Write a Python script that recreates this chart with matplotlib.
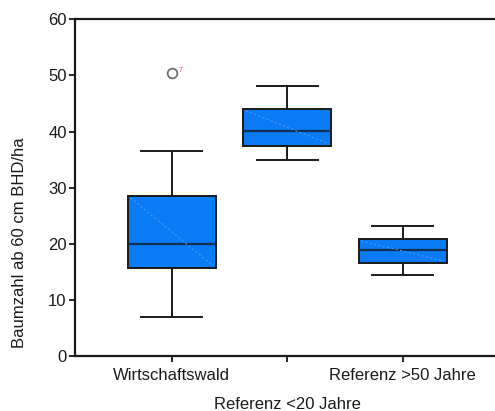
import matplotlib.pyplot as plt

plt.rcParams['font.family'] = ['Liberation Sans', 'DejaVu Sans']

# box statistics
q1 = [15.7, 37.5, 16.6]
med = [20.0, 40.1, 18.8]
q3 = [28.5, 44.0, 20.8]
whislo = [6.9, 35.0, 14.4]
whishi = [36.5, 48.1, 23.2]
fliers = [[50.5], [], []]
box_pos = [1, 2, 3]
tick_labels = ['Wirtschaftswald', 'Referenz <20 Jahre', 'Referenz >50 Jahre']

stats = []
for i in range(3):
    stats.append(dict(q1=q1[i], med=med[i], q3=q3[i], whislo=whislo[i],
                      whishi=whishi[i], fliers=fliers[i]))

fig = plt.figure(figsize=(4.95, 4.11), dpi=100)
ax = fig.add_axes([0.1515, 0.134, 0.8485, 0.819])

bp = ax.bxp(stats, positions=box_pos, widths=0.76, patch_artist=True,
            capwidths=0.53, showfliers=True,
            boxprops=dict(facecolor='#0a7af5', edgecolor='#1a1a1a', linewidth=1.4),
            medianprops=dict(color='#143050', linewidth=1.6),
            whiskerprops=dict(color='#1a1a1a', linewidth=1.4),
            capprops=dict(color='#1a1a1a', linewidth=1.4),
            flierprops=dict(marker='o', markerfacecolor='none',
                            markeredgecolor='#707070', markersize=7,
                            markeredgewidth=1.3))

# faint diagonal artifact in the boxes
for i, p in enumerate(box_pos):
    ax.plot([p - 0.36, p + 0.36], [q3[i] - 0.3, q1[i] + 0.3], color='#4c98f0',
            lw=0.8, ls=(0, (2, 2)), zorder=3)

ax.text(1.06, 50.9, '7', fontsize=5, color='#c05050', ha='left', va='center')

ax.set_xlim(0.16, 3.8)
ax.set_ylim(0, 60)
ax.set_yticks([0, 10, 20, 30, 40, 50, 60])
ax.set_xticks(box_pos)
ax.set_xticklabels(tick_labels, fontsize=12, color='#1a1a1a')
for i, t in enumerate(ax.get_xticklabels()):
    if i == 1:
        t.set_y(-0.085)
ax.tick_params(axis='y', labelsize=12, length=4, width=1.2, pad=2, labelcolor='#1a1a1a')
ax.tick_params(axis='x', length=4, width=1.2, pad=5)
ax.set_ylabel('Baumzahl ab 60 cm BHD/ha', fontsize=12, color='#1a1a1a')
ax.yaxis.set_label_coords(-0.114, 0.336)

for s in ['left', 'bottom', 'top']:
    ax.spines[s].set_linewidth(1.6)
    ax.spines[s].set_color('#1a1a1a')
ax.spines['right'].set_visible(False)

fig.savefig('out.png', dpi=100)
